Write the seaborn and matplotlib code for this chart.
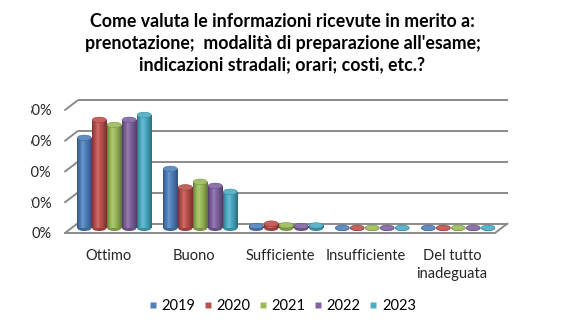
import numpy as np
import pandas as pd
import seaborn as sns
import matplotlib
matplotlib.use("Agg")
import matplotlib.pyplot as plt
from matplotlib.patches import Ellipse
from matplotlib.lines import Line2D
from matplotlib.transforms import ScaledTranslation, Bbox, TransformedBbox, IdentityTransform
from matplotlib.colors import to_rgb

# ---- data -------------------------------------------------------------
categories = ["Ottimo", "Buono", "Sufficiente", "Insufficiente", "Del tutto\ninadeguata"]
years = ["2019", "2020", "2021", "2022", "2023"]
share_2019 = [0.588, 0.386, 0.015, 0.003, 0.003]
share_2020 = [0.705, 0.266, 0.030, 0.003, 0.003]
share_2021 = [0.672, 0.302, 0.020, 0.003, 0.003]
share_2022 = [0.705, 0.276, 0.015, 0.003, 0.003]
share_2023 = [0.737, 0.237, 0.018, 0.003, 0.003]
y_ticks = [0.0, 0.2, 0.4, 0.6, 0.8]
palette = ["#4F81BD", "#C0504D", "#9BBB59", "#8064A2", "#4BACC6"]

title = ("Come valuta le informazioni ricevute in merito a:\n"
         "prenotazione;  modalità di preparazione all'esame;\n"
         "indicazioni stradali; orari; costi, etc.?")

series = [share_2019, share_2020, share_2021, share_2022, share_2023]
df = pd.DataFrame({
    "categoria": [c for _ in years for c in categories],
    "anno": [y for y in years for _ in categories],
    "quota": [v for s in series for v in s],
})

# ---- style ------------------------------------------------------------
sns.set_theme(style="white")
plt.rcParams["font.family"] = ["Lato", "DejaVu Sans"]
plt.rcParams["text.color"] = "#000000"

W, H, DPI = 565, 330, 100
fig = plt.figure(figsize=(W / DPI, H / DPI), dpi=DPI)

# front plane of the 3-D box, in pixels
FX0, FX1, FY0, FY1 = 65, 495, 233, 110
ax = fig.add_axes([FX0 / W, (H - FY0) / H, (FX1 - FX0) / W, (FY0 - FY1) / H])

sns.barplot(data=df, x="categoria", y="quota", hue="anno", palette=palette,
            saturation=1, width=0.87, gap=0.06, ax=ax, legend=False)

ax.set_xlim(-0.5, 4.5)
ax.set_ylim(0, 0.8)
for s in ax.spines.values():
    s.set_visible(False)
ax.grid(False)
ax.set_xlabel("")
ax.set_ylabel("")

# pixel -> data conversion for the depth offsets
px_x = 5.0 / (FX1 - FX0)
px_y = 0.8 / (FY0 - FY1)
DEPTH_X, DEPTH_Y = 12.5, 9.5          # back wall offset in px
dxb, dyb = DEPTH_X * px_x, DEPTH_Y * px_y

grid_col = "#8a8a8a"
for v in y_ticks:
    # back-wall gridline and its slanted side-wall segment
    ax.plot([-0.5 + dxb, 4.5 + dxb], [v + dyb, v + dyb], color=grid_col,
            lw=1.4, zorder=0.5, clip_on=False, solid_capstyle="butt")
    ax.plot([-0.5, -0.5 + dxb], [v, v + dyb], color=grid_col,
            lw=1.4, zorder=0.5, clip_on=False)
# floor outline
ax.plot([-0.5, 4.5, 4.5 + dxb], [0, 0, dyb], color=grid_col, lw=1.4,
        zorder=0.5, clip_on=False)

# ---- cylinder rendering of the seaborn bars ---------------------------
bar_shift = ax.transData + ScaledTranslation(DEPTH_X / 2 / DPI, DEPTH_Y / 2 / DPI,
                                             fig.dpi_scale_trans)
cap_h = 5.5 * px_y
t = np.linspace(0, 1, 64)
shade = np.interp(t, [0, 0.12, 0.38, 0.7, 1.0], [0.62, 0.85, 1.12, 0.9, 0.62])

def shaded(rgb, k):
    rgb = np.array(rgb)
    if k >= 1:
        return rgb + (1 - rgb) * (k - 1) * 1.6
    return rgb * k

for cont in ax.containers:
    for patch in cont:
        x0, w, h = patch.get_x(), patch.get_width(), patch.get_height()
        base = to_rgb(patch.get_facecolor())
        grad = np.array([[np.clip(shaded(base, k), 0, 1) for k in shade]])
        patch.set_transform(bar_shift)
        patch.set_facecolor("none")
        patch.set_edgecolor("none")
        # lower half of the base ellipse
        ax.add_patch(Ellipse((x0 + w / 2, 0), w, cap_h, transform=bar_shift,
                             facecolor=shaded(base, 0.8), edgecolor="none",
                             zorder=1.9))
        im = ax.imshow(grad, extent=(x0, x0 + w, 0, h), aspect="auto",
                       transform=bar_shift, interpolation="bilinear", zorder=2)
        im.set_clip_path(patch)
        # top cap
        ax.add_patch(Ellipse((x0 + w / 2, h), w, cap_h, transform=bar_shift,
                             facecolor=np.clip(shaded(base, 1.06), 0, 1),
                             edgecolor=shaded(base, 0.8), lw=0.4, zorder=2.1))

ax.set_xlim(-0.5, 4.5)
ax.set_ylim(0, 0.8)

# ---- ticks ------------------------------------------------------------
ax.set_yticks(y_ticks)
ax.set_yticklabels([f"{v:.0%}" for v in y_ticks])
ax.set_xticks(range(len(categories)))
ax.set_xticklabels(categories, linespacing=1.4)
ax.tick_params(axis="y", length=0, pad=9.5, labelsize=10.5)
ax.tick_params(axis="x", length=0, pad=11.5, labelsize=10.5)

# ---- legend -----------------------------------------------------------
handles = [Line2D([], [], marker="s", linestyle="none", markersize=5,
                  markerfacecolor=c, markeredgecolor="none", label=y)
           for c, y in zip(palette, years)]
ax.legend(handles=handles, loc="center", bbox_to_anchor=(0.5, (H - 306) / H),
          bbox_transform=fig.transFigure, ncol=5, frameon=False, fontsize=10.5,
          handlelength=0.5, handletextpad=0.35, columnspacing=0.6)

# ---- title ------------------------------------------------------------
fig.text(0.5, 1 - 13 / H, title, ha="center", va="top", fontsize=12.8,
         fontweight="bold", linespacing=1.33)

# the y labels sit in a narrow box and lose their first digit
fig.canvas.draw()
label_box = TransformedBbox(Bbox([[31, -50], [W + 50, H + 50]]), IdentityTransform())
for lbl in ax.get_yticklabels():
    lbl.set_clip_on(True)
    lbl.set_clip_box(label_box)

fig.savefig("out.png", dpi=DPI)
